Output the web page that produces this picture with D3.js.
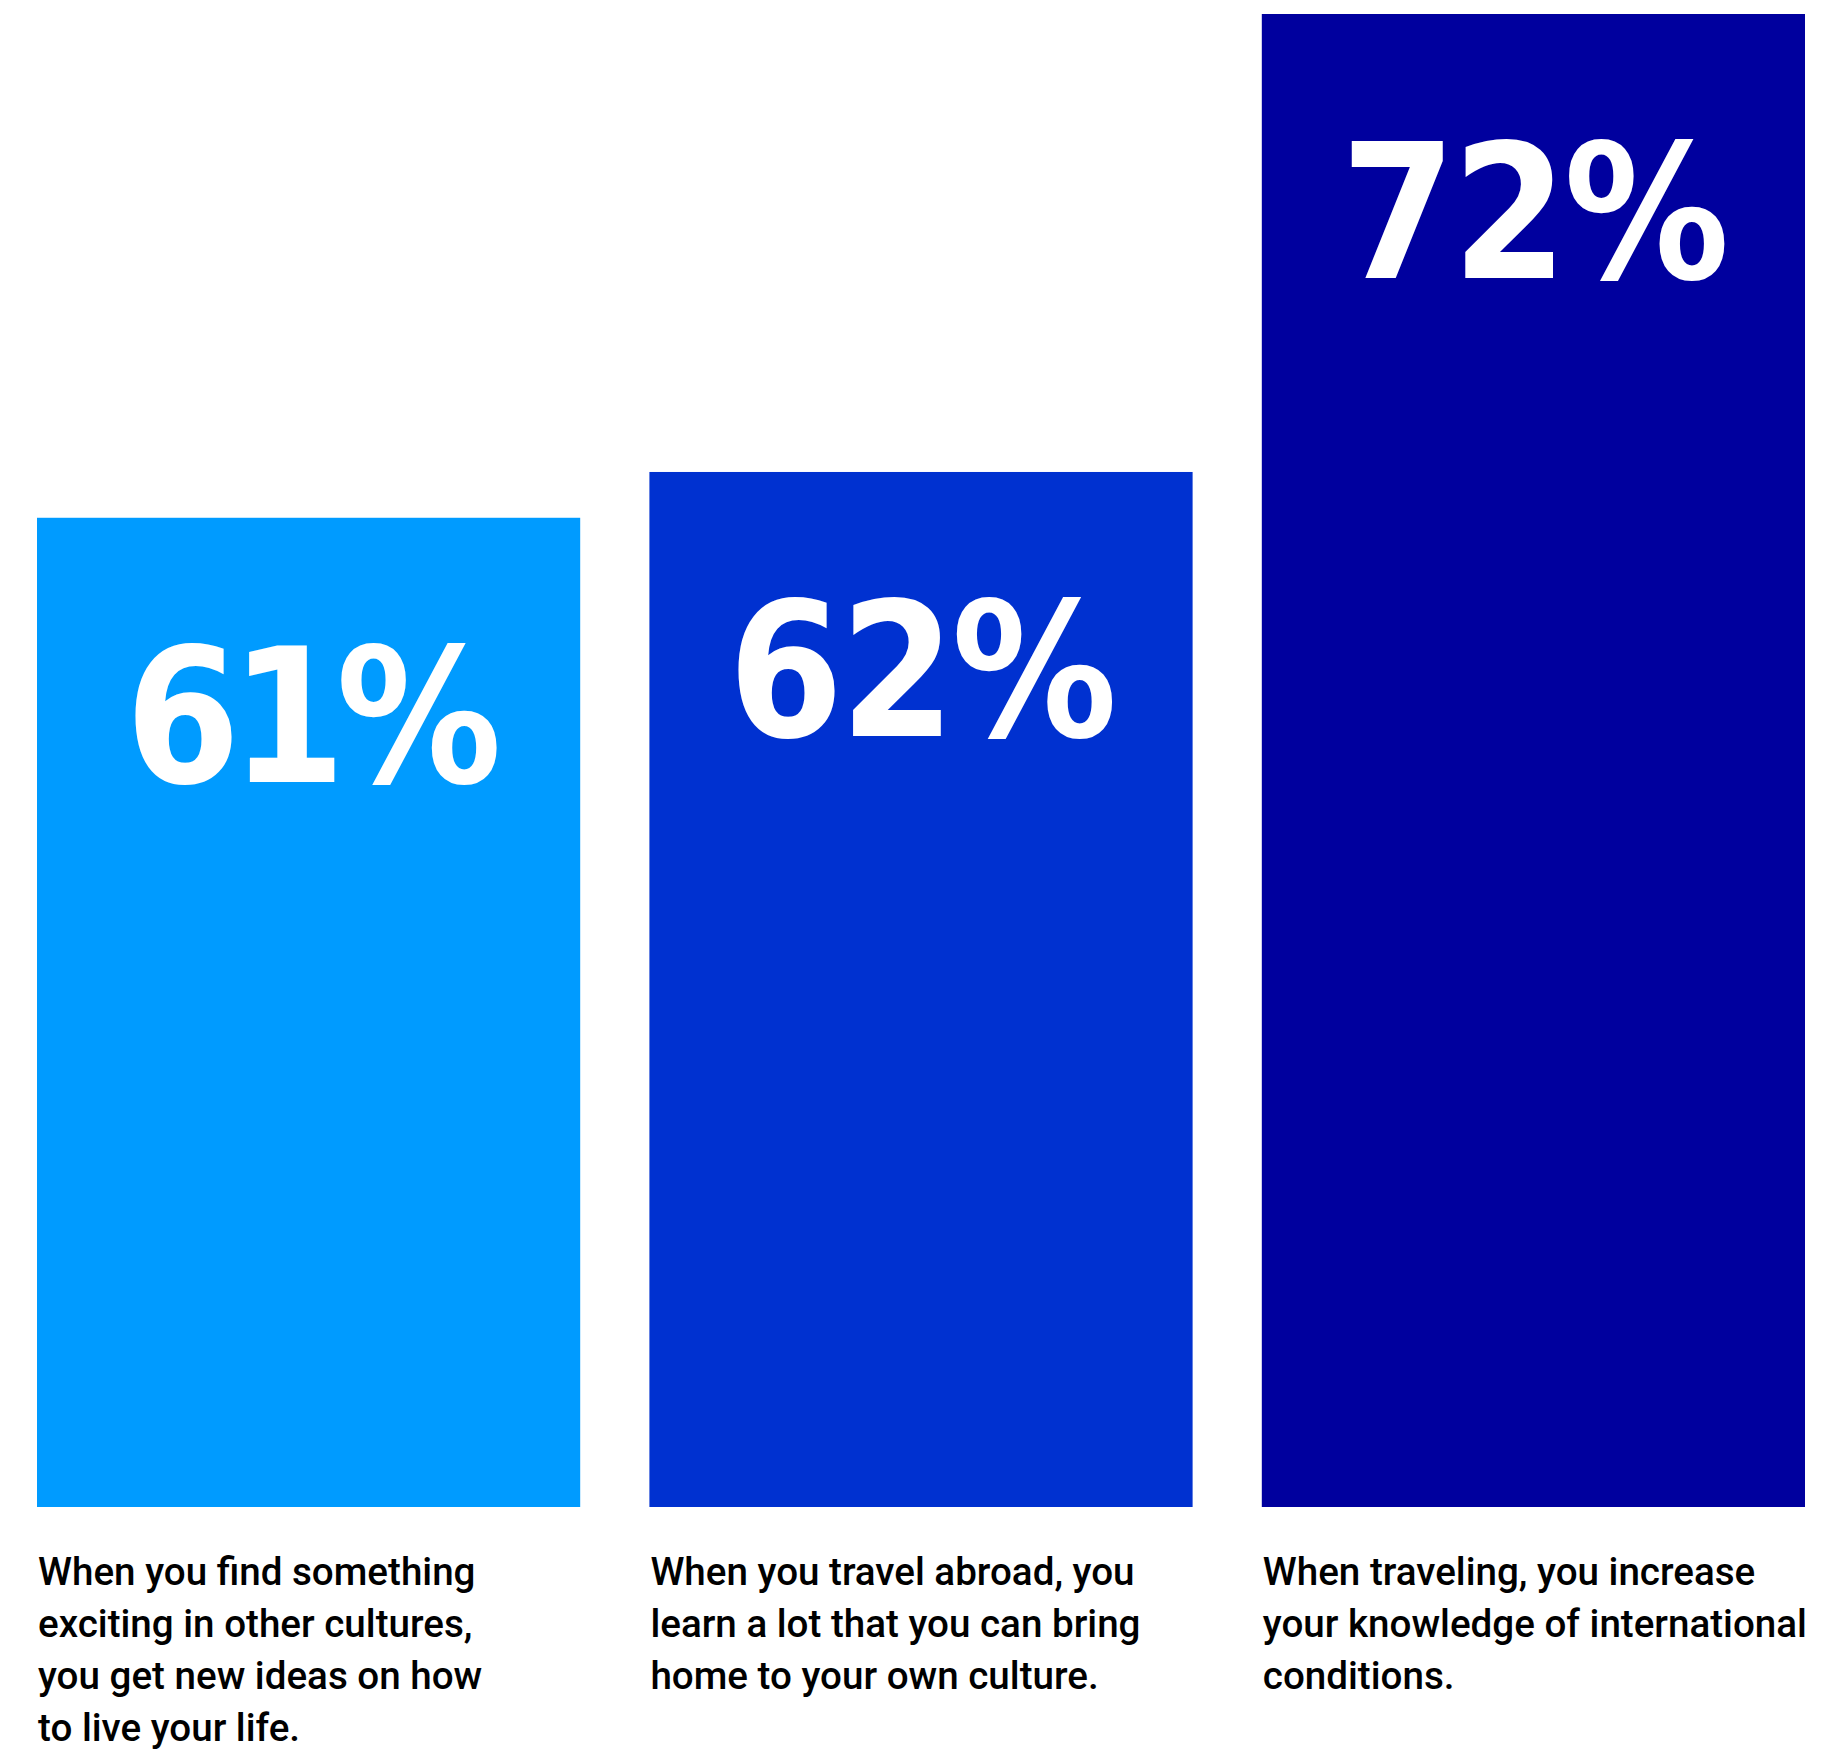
<!DOCTYPE html>
<html>
<head>
<meta charset="utf-8">
<script src="https://cdn.jsdelivr.net/npm/d3@7"></script>
<style>
  html, body { margin: 0; padding: 0; background: #ffffff; }
  svg { display: block; }
</style>
</head>
<body>
<svg id="chart" width="1845" height="1750"></svg>
<script>
// Survey statements, share agreeing (%), and bar colours
const statements = [
  ["When you find something", "exciting in other cultures,", "you get new ideas on how", "to live your life."],
  ["When you travel abroad, you", "learn a lot that you can bring", "home to your own culture."],
  ["When traveling, you increase", "your knowledge of international", "conditions."]
];
const shares = [61, 62, 72];
const barColors = ["#009bff", "#0031d0", "#00009e"];

const svg = d3.select("#chart");
const idx = d3.range(shares.length);

const x = d3.scaleBand()
  .domain(idx)
  .range([37, 1805])
  .paddingInner(0.113)
  .paddingOuter(0);

const y = d3.scaleLinear()
  .domain([39.4, 72])
  .range([1507, 14]);

// Bars
svg.selectAll("rect.bar")
  .data(idx)
  .join("rect")
  .attr("class", "bar")
  .attr("x", i => x(i))
  .attr("y", i => y(shares[i]))
  .attr("width", x.bandwidth())
  .attr("height", i => y.range()[0] - y(shares[i]))
  .attr("fill", i => barColors[i]);

// Big percentage labels inside each bar
svg.selectAll("text.value")
  .data(idx)
  .join("text")
  .attr("class", "value")
  .attr("transform", i => {
    const cx = x(i) + x.bandwidth() / 2;
    return `translate(${cx},${y(shares[i]) + 264}) scale(0.88,1)`;
  })
  .attr("text-anchor", "middle")
  .attr("font-family", "'DejaVu Sans', sans-serif")
  .attr("font-weight", "bold")
  .attr("font-size", 188)
  // the tabular "1" is wide, so labels containing it are set tighter
  .attr("letter-spacing", i => String(shares[i]).includes("1") ? -11 : -4)
  .attr("fill", "#ffffff")
  .text(i => shares[i] + "%");

// Statement captions under the bars
const captions = svg.selectAll("text.caption")
  .data(idx)
  .join("text")
  .attr("class", "caption")
  .attr("x", i => x(i) + 1)
  .attr("y", 1585)
  .attr("font-family", "Roboto, sans-serif")
  .attr("font-weight", 500)
  .attr("font-size", 38.6)
  .attr("fill", "#000000");

captions.selectAll("tspan")
  .data(i => statements[i].map(line => ({ line, x: x(i) + 1 })))
  .join("tspan")
  .attr("x", d => d.x)
  .attr("dy", (d, j) => j === 0 ? 0 : 52)
  .text(d => d.line);
</script>
</body>
</html>
